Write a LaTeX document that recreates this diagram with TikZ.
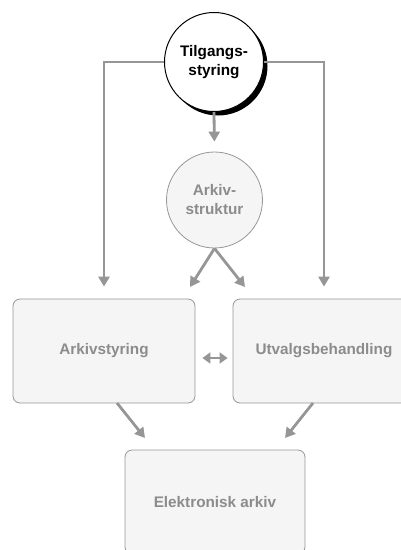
\documentclass[tikz,border=0pt]{standalone}
\usepackage{fontspec}
\setmainfont{Liberation Sans}
\usetikzlibrary{arrows.meta,shadows}
\definecolor{linegray}{RGB}{150,150,150}
\definecolor{boxfill}{RGB}{245,245,245}
\definecolor{textgray}{RGB}{140,140,140}
\begin{document}
\begin{tikzpicture}[x=1pt,y=-1pt,
  txt/.style={font=\fontsize{15.3}{19}\selectfont\bfseries, align=center},
  greybox/.style={txt, draw=linegray, fill=boxfill, rounded corners=7pt, line width=0.8pt,
     minimum width=182pt, minimum height=104pt, text=textgray},
  arr/.style={draw=linegray, line width=2.8pt, -{Triangle[length=10pt,width=11pt]}},
  darr/.style={draw=linegray, line width=2.8pt, {Triangle[length=8pt,width=11pt]}-{Triangle[length=8pt,width=11pt]}}]
\useasboundingbox (0,0) rectangle (401,550);
\clip (0,0) rectangle (401,550);
% nodes
\node[greybox] (styr) at (104,351) {Arkivstyring};
\node[greybox] (utv) at (324,351) {Utvalgsbehandling};
\node[greybox, minimum width=180pt] (elek) at (215,502) {Elektronisk arkiv};
\node[txt, circle, draw=linegray, fill=boxfill, line width=0.8pt, minimum size=96pt, inner sep=0pt, text=textgray] (ark) at (214.5,200) {Arkiv-\\struktur};
\node[txt, circle, draw=black, fill=white, line width=1pt, minimum size=99pt, inner sep=0pt,
  drop shadow={shadow xshift=4pt, shadow yshift=-4pt, fill=black, opacity=1}] (tilg) at (214,62) {Tilgangs-\\styring};
% free ends
\coordinate (a1) at (190,287);
\coordinate (a2) at (245,287);
\coordinate (b1s) at (117,403);
\coordinate (b1e) at (145,438);
\coordinate (b2s) at (313,403);
\coordinate (b2e) at (285,438);
% connectors
\draw[arr, shorten >=12pt] (tilg.west) -| (styr.north);
\draw[arr, shorten >=12pt] (tilg.east) -| (utv.north);
\draw[arr, shorten >=10pt] (tilg.south) -- (ark.north);
\draw[arr] (ark.south) -- (a1);
\draw[arr] (ark.south) -- (a2);
\draw[darr, shorten <=7pt, shorten >=5pt] ([yshift=-7pt]styr.east) -- ([yshift=-7pt]utv.west);
\draw[arr] (b1s) -- (b1e);
\draw[arr] (b2s) -- (b2e);
\end{tikzpicture}
\end{document}
